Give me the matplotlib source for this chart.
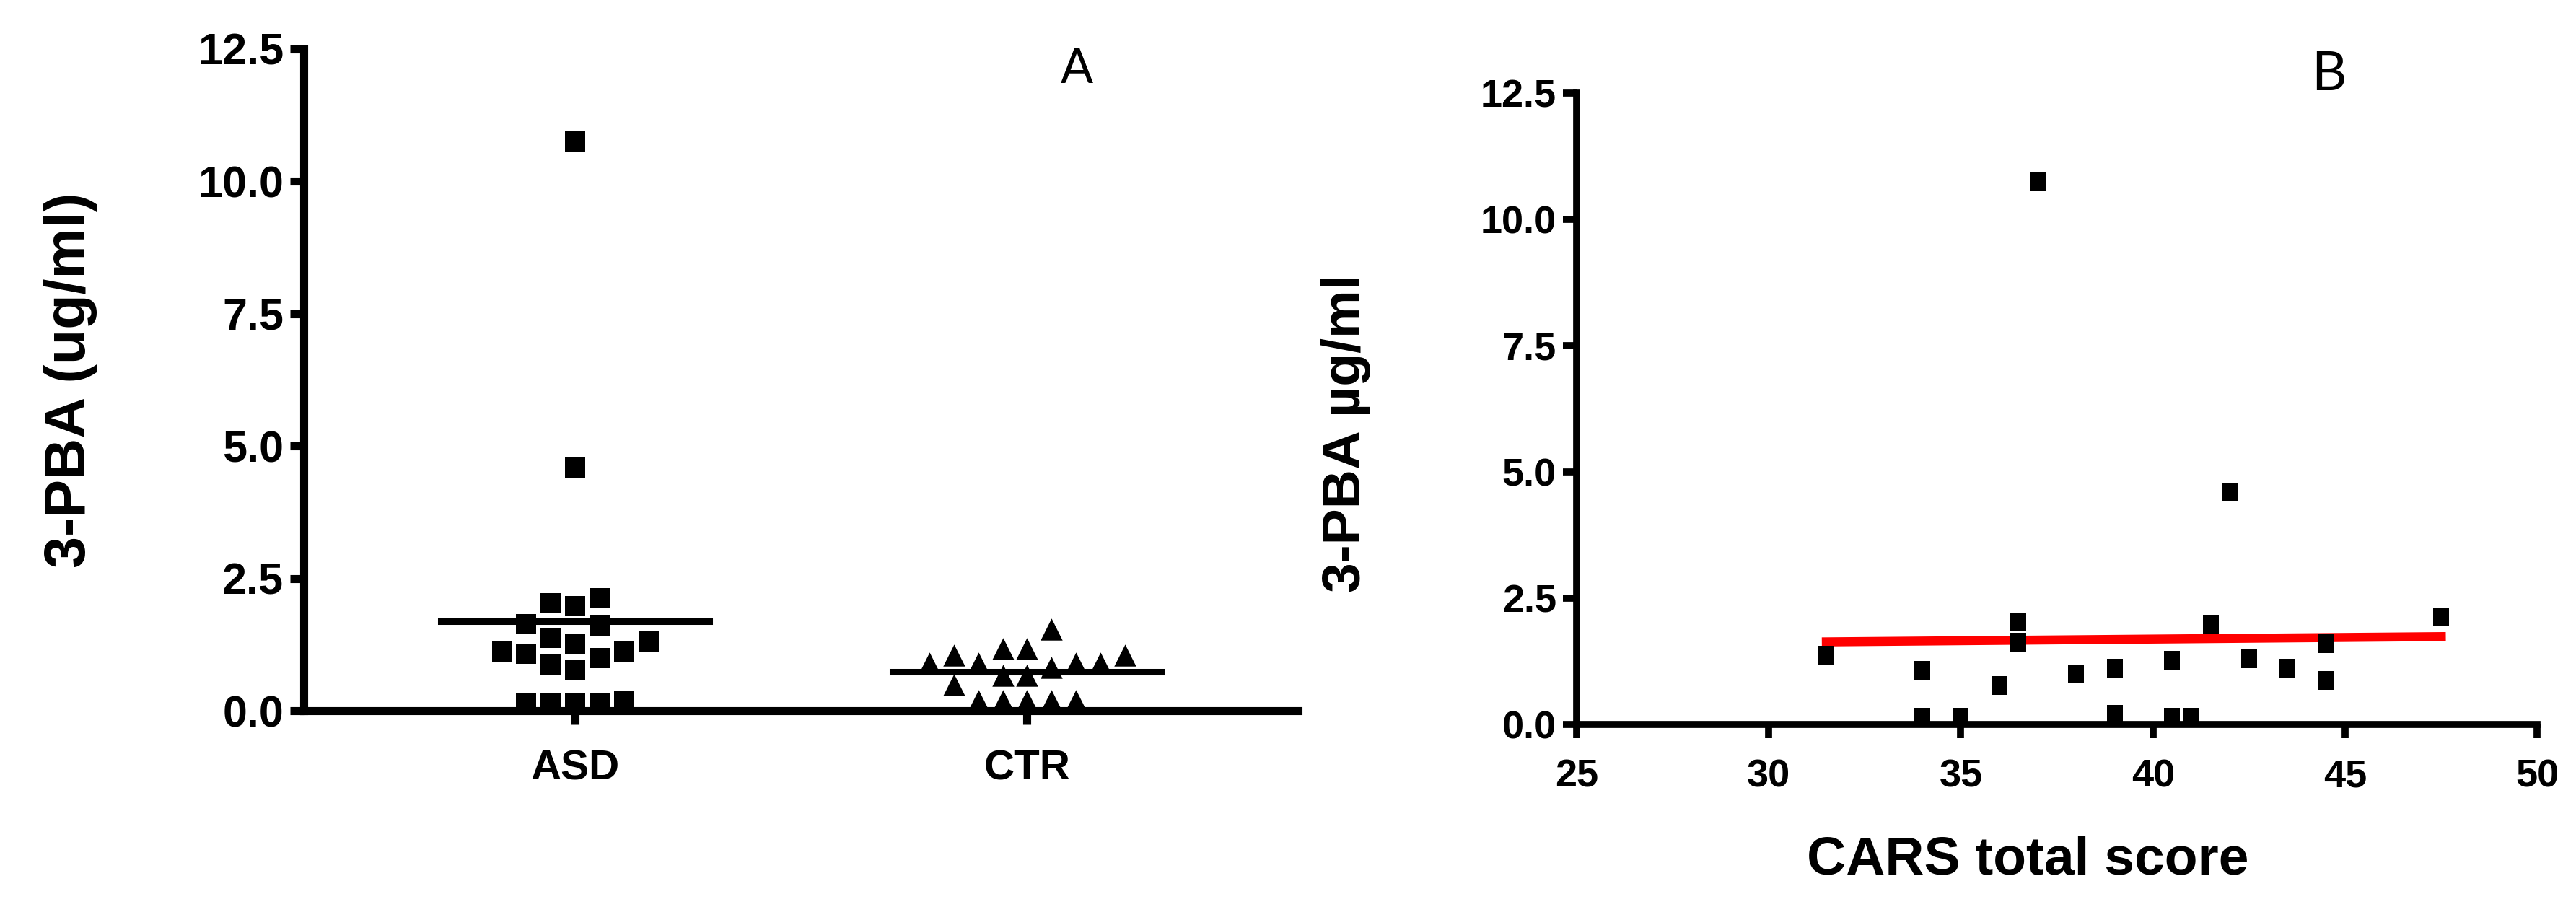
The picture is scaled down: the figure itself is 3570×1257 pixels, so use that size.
import numpy as np
import matplotlib.pyplot as plt

plt.rcParams['font.family'] = ['Liberation Sans', 'DejaVu Sans']

# panel A: 3-PBA per group
groups = ["ASD", "CTR"]
asd = [10.75, 4.6, 2.13, 2.04, 1.98, 1.64, 1.61, 1.38, 1.31, 1.28, 1.12,
       1.12, 1.08, 1.0, 0.88, 0.78, 0.2, 0.15, 0.15, 0.15, 0.15]
ctr = [1.55, 1.18, 1.18, 1.05, 1.05, 0.9, 0.9, 0.9, 0.9, 0.82, 0.68,
       0.68, 0.5, 0.2, 0.2, 0.2, 0.2, 0.2]

# panel B: CARS score vs 3-PBA
cars = [31.5, 34, 34, 35, 36, 36.5, 36.5, 37, 38, 39, 39, 40.5, 40.5, 41,
        41.5, 42, 42.5, 43.5, 44.5, 44.5, 47.5]
pba = [1.38, 1.08, 0.15, 0.15, 0.78, 2.04, 1.64, 10.75, 1.0, 1.12, 0.2,
       1.28, 0.15, 0.15, 1.98, 4.6, 1.31, 1.12, 1.61, 0.88, 2.13]

yticks = [0, 2.5, 5, 7.5, 10, 12.5]
xticks_b = [25, 30, 35, 40, 45, 50]


def swarm(vals, step, thr):
    # prism-like column scatter: push points sideways when they would overlap
    cands = [0, -1, 1, -2, 2, -3, 3, -4, 4, -5, 5, -6, 6]
    placed = []
    offs = np.zeros(len(vals))
    for i in np.argsort(vals, kind='stable'):
        v = vals[i]
        for c in cands:
            if all(not (o == c and abs(v - pv) < thr) for o, pv in placed):
                break
        placed.append((c, v))
        offs[i] = c * step
    return offs


# slightly tall box, the right panel looks squeezed sideways
tall_sq = [(-0.85, -1), (0.85, -1), (0.85, 1), (-0.85, 1), (-0.85, -1)]

fig = plt.figure(figsize=(35.7, 12.57), dpi=100)

# ---- panel A
ax1 = fig.add_axes([0.118, 0.216, 0.386, 0.730])
step = 0.054
for i, (vals, mk, sz) in enumerate([(asd, 's', 390), (ctr, '^', 480)]):
    vals = np.array(vals)
    x = i + swarm(vals, step, 0.45)
    ax1.scatter(x, vals, marker=mk, s=sz, color='black', linewidths=0,
                clip_on=False, zorder=3)
    m = vals.mean()
    ax1.plot([i - 5.5 * step, i + 5.5 * step], [m, m], color='black', lw=6.5,
             zorder=2)

ax1.set_xlim(-0.6, 1.6)
ax1.set_ylim(0, 12.5)
ax1.set_xticks([0, 1])
ax1.set_xticklabels(groups, fontsize=42, fontweight='bold')
ax1.set_yticks(yticks)
ax1.set_yticklabels([f"{t:.1f}" for t in yticks], fontsize=44, fontweight='bold')
ax1.set_ylabel("3-PBA (ug/ml)", fontsize=57, fontweight='bold', labelpad=100)
ax1.tick_params(axis='x', pad=24)
fig.text(0.418, 0.924, "A", fontsize=48, family='Lato', ha='center',
         va='center')

# ---- panel B
ax2 = fig.add_axes([0.612, 0.201, 0.373, 0.696])
ax2.scatter(cars, pba, marker=tall_sq, s=330, color='black', linewidths=0,
            clip_on=False, zorder=3)
k, b = np.polyfit(cars, pba, 1)
xf = np.array([min(cars), max(cars)])
ax2.plot(xf, k * xf + b, color='#ff0000', lw=9, zorder=2)

ax2.set_xlim(25, 50)
ax2.set_ylim(0, 12.5)
ax2.set_xticks(xticks_b)
ax2.set_xticklabels([str(t) for t in xticks_b], fontsize=39, fontweight='bold')
ax2.set_yticks(yticks)
ax2.set_yticklabels([f"{t:.1f}" for t in yticks], fontsize=39,
                    fontweight='bold')
ax2.set_ylabel("3-PBA µg/ml", fontsize=54, fontweight='bold')
ax2.yaxis.set_label_coords(-0.214, 0.461)
ax2.set_xlabel("CARS total score", fontsize=54, fontweight='bold')
ax2.xaxis.set_label_coords(0.47, -0.175)
ax2.tick_params(axis='x', pad=20)
fig.text(0.904, 0.918, "B", fontsize=54, family='Lato', ha='center',
         va='center')

for ax, lw in [(ax1, 8), (ax2, 7)]:
    for s in ['top', 'right']:
        ax.spines[s].set_visible(False)
    for s in ['left', 'bottom']:
        ax.spines[s].set_linewidth(lw)
    ax.tick_params(width=lw, length=14)
    ax.tick_params(axis='y', pad=6)

fig.savefig("out.png", dpi=100, facecolor='white')
